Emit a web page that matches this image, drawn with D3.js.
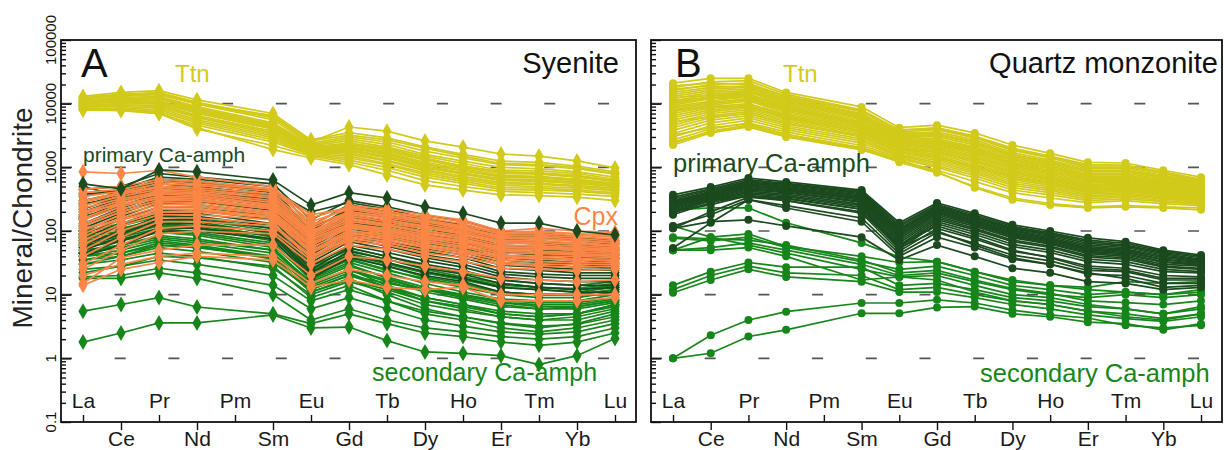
<!DOCTYPE html>
<html><head><meta charset="utf-8">
<script src="https://cdn.jsdelivr.net/npm/d3@7"></script>
<style>body{margin:0;background:#fff}svg{display:block;font-family:"Liberation Sans",Arial,sans-serif}</style>
</head><body><svg id="c" width="1224" height="450"></svg>
<script>
const elements = ["La","Ce","Pr","Nd","Pm","Sm","Eu","Gd","Tb","Dy","Ho","Er","Tm","Yb","Lu"];
const yTickLabels = ["0.1","1","10","100","1000","10000","100000"];
const gridValues = [1,10,100,1000,10000];

// Panel A – Syenite
const syeniteTtn = [
[11000,13000,14000,10000,null,6000,2500,4300,3700,2600,2080,1620,1500,1260,980],
[13000,15000,16000,11500,null,7000,2700,3500,2900,2100,1600,1250,1200,1050,850],
[12500,14000,15000,10500,null,6200,2400,3000,2500,1800,1400,1100,1050,950,780],
[12000,13500,14000,9800,null,5600,2300,2800,2300,1600,1250,1000,950,850,700],
[11500,12500,13000,9000,null,5000,2200,2600,2100,1500,1150,900,880,800,650],
[11000,12000,12500,8500,null,4800,2100,2400,2000,1400,1050,850,820,750,620],
[10500,11500,12000,8000,null,4500,2000,2200,1800,1300,1000,800,780,700,600],
[10000,11000,11000,7500,null,4200,1950,2100,1700,1200,950,750,720,650,560],
[10000,10500,10500,7000,null,4000,1900,2000,1600,1100,880,700,680,620,540],
[9500,10000,10000,6500,null,3700,1850,1900,1500,1050,820,660,640,590,520],
[9500,9500,9500,6200,null,3500,1800,1800,1400,980,780,620,600,560,500],
[9000,9500,9000,6000,null,3300,1750,1700,1300,920,720,580,560,520,470],
[9000,9000,8500,5600,null,3100,1700,1600,1250,880,680,550,540,500,450],
[8500,8500,8000,5300,null,2900,1650,1500,1150,820,640,520,500,470,430],
[8500,8200,7500,5000,null,2700,1600,1400,1100,760,600,480,470,440,400],
[8000,8000,7000,4600,null,2500,1550,1300,1000,700,560,450,440,420,380],
[8000,7800,7000,4000,null,2200,1500,1200,900,620,500,420,400,380,350],
[8500,8000,7200,4200,null,1900,1400,1100,760,530,440,370,360,340,300],
[12000,14000,14500,10000,null,6500,2600,3200,2700,2000,1500,1150,1100,1000,800],
[10500,12000,12000,8200,null,4600,2100,2300,1900,1350,1050,850,800,720,600],
[9000,10000,10500,7200,null,4000,1900,1850,1450,1000,800,640,620,560,500],
[11000,11500,11000,7800,null,4300,2000,2000,1650,1150,900,720,700,640,560]
];
const syeniteCpx = [
[850,800,900,700,null,500,120,250,220,180,150,100,110,100,95],
[400,450,600,550,null,450,160,240,200,170,140,95,100,90,85],
[350,420,550,520,null,420,140,220,180,150,120,90,90,85,80],
[300,400,500,480,null,380,120,200,170,140,110,85,85,80,75],
[280,380,480,450,null,350,110,190,160,130,105,80,80,75,70],
[250,350,450,420,null,330,100,180,150,120,100,75,75,70,65],
[230,320,420,400,null,300,95,170,140,115,95,70,70,65,60],
[200,300,400,380,null,280,90,160,130,110,90,68,66,62,58],
[180,280,380,360,null,260,85,150,125,100,85,65,62,58,55],
[160,260,350,340,null,250,80,140,120,95,80,60,58,55,52],
[150,240,330,320,null,230,75,130,110,90,75,56,55,52,50],
[130,220,300,300,null,220,70,125,105,85,70,52,52,50,48],
[120,200,280,280,null,200,65,120,100,80,66,50,48,46,45],
[100,180,260,260,null,190,60,110,95,75,62,48,46,44,42],
[90,160,240,240,null,180,55,100,90,70,58,45,44,42,40],
[80,150,220,220,null,170,50,95,85,66,55,42,40,40,38],
[70,130,200,200,null,160,48,90,80,62,50,40,38,37,36],
[60,120,180,180,null,150,45,85,75,58,48,38,36,35,34],
[50,100,160,160,null,130,40,80,70,55,45,35,33,32,32],
[40,80,140,140,null,120,38,75,65,50,42,32,30,30,30],
[30,60,110,120,null,100,35,70,60,45,38,30,28,27,28],
[25,50,90,100,null,90,30,60,52,40,33,26,25,24,25],
[15,38,50,60,null,60,20,40,35,28,23,18,17,16,17],
[20,30,40,45,null,40,15,25,20,16,14,10,10,10,10],
[14,25,32,40,null,35,13,17,13,12,13,8,8,8,9],
[200,260,320,300,null,240,90,200,170,140,115,80,75,70,65],
[450,500,650,600,null,460,180,230,190,160,130,90,95,90,85],
[110,150,200,210,null,170,60,115,100,80,70,55,55,50,48]
];
const syenitePrimary = [
[550,460,910,850,null,630,255,400,330,240,190,133,133,100,87],
[450,500,800,700,null,550,150,300,240,180,140,100,95,80,70],
[350,450,700,650,null,500,120,260,200,150,120,85,80,70,62],
[300,400,650,600,null,450,100,230,180,135,105,75,70,62,55],
[250,380,600,550,null,400,90,200,160,120,95,68,62,55,50],
[220,350,550,500,null,370,80,180,145,110,85,60,56,50,45],
[200,320,500,470,null,340,75,165,130,100,78,55,50,45,42],
[180,300,460,430,null,310,70,150,120,90,70,50,46,42,38],
[160,280,420,400,null,290,65,140,110,82,64,46,42,38,35],
[150,250,380,370,null,270,60,130,100,76,58,42,38,35,32],
[130,230,350,340,null,250,55,120,92,70,54,38,35,32,30],
[120,210,320,310,null,230,50,110,85,64,50,35,32,30,28],
[110,190,300,290,null,210,46,100,78,58,46,32,30,27,26],
[100,170,270,260,null,190,42,92,70,52,42,29,27,25,24],
[90,150,240,240,null,170,38,84,64,48,38,26,24,22,22],
[80,130,210,210,null,150,35,76,58,42,34,23,21,20,20],
[70,120,190,190,null,130,32,68,52,38,30,21,19,18,18],
[60,100,170,170,null,120,28,60,46,34,27,19,17,16,16],
[55,90,150,150,null,110,25,54,40,30,24,17,15,14,14],
[50,80,130,130,null,95,22,48,36,26,21,15,13,12,13],
[45,70,110,110,null,85,20,42,32,23,18,13,12,11,11],
[40,60,100,100,null,75,18,38,28,20,16,11,10,10,10],
[380,420,600,560,null,430,200,280,220,160,125,90,88,76,66],
[270,330,480,460,null,350,110,210,170,125,100,70,66,58,52],
[170,240,360,350,null,280,85,170,135,100,80,56,52,46,42],
[500,350,400,420,null,300,70,140,110,85,66,47,44,40,37]
];
const syeniteSecondary = [
[1.8,2.5,3.6,3.6,null,4.8,3.0,3.1,1.9,1.26,1.2,1.1,0.8,1.1,2.05],
[5.5,7,9,6.4,null,5,3.5,5,3.5,2.5,2.2,1.8,1.6,1.8,2.5],
[18,18,22,18,null,10,4,6,4,3,2.6,2.2,2,2.2,3],
[19,20,26,22,null,14,6,9,6,4,3.2,2.6,2.4,2.6,3.5],
[25,28,35,30,null,20,8,12,8,5.5,4.5,3.6,3.2,3.4,4.5],
[30,35,45,40,null,26,10,16,11,7,5.5,4.5,4,4,5.5],
[35,40,55,48,null,32,12,20,13,9,7,5.5,5,5,6.5],
[40,50,70,60,null,40,14,24,16,11,8.5,6.5,6,6,7.5],
[50,60,85,75,null,50,16,28,19,13,10,7.5,7,7,8.5],
[60,75,100,90,null,60,18,32,22,15,11,8.5,8,8,10],
[70,85,120,110,null,70,20,36,25,17,13,10,9,9,11],
[80,100,140,130,null,80,22,40,28,19,15,11,10,10,12],
[90,110,150,140,null,90,25,45,32,22,17,13,12,11,13],
[100,120,170,150,null,100,28,50,36,25,19,15,13,12,14],
[55,70,95,85,null,55,15,25,14,9,7,5,4.5,5,7],
[45,55,75,65,null,45,13,22,13,8,6,4.5,4,4.5,6],
[65,80,110,95,null,65,17,30,18,12,9,7,6,6.5,8],
[30,40,60,55,null,40,11,18,10,6,4.5,3.5,3,3.5,5],
[22,28,40,38,null,28,9,14,8,5,4,3,2.6,3,4],
[40,45,60,55,null,38,12,20,15,12,10,8,7.5,7.5,9],
[75,90,125,115,null,75,19,35,24,18,14,11,10,10,12],
[85,95,130,120,null,85,24,42,30,22,18,14,13,12.5,15],
[100,130,180,160,null,110,30,55,40,28,22,17,15,14,16],
[45,60,80,70,null,50,14,25,17,12,9.5,7.5,6.5,6.5,8],
[35,45,65,58,null,36,11,17,12,8,6.5,5,4.5,5,7]
];

// Panel B – Quartz monzonite
const qmTtn = [
[21000,25000,25000,15000,null,8900,4200,4600,3470,2240,1660,1200,1170,900,700],
[18000,22000,23000,14000,null,8000,3800,4200,3100,2000,1500,1100,1080,850,650],
[16000,20000,21000,13000,null,7500,3600,3900,2900,1850,1400,1000,1000,800,620],
[15000,18000,19000,12500,null,7000,3400,3600,2700,1700,1300,950,950,750,600],
[14000,17000,18000,12000,null,6800,3300,3400,2550,1600,1230,900,900,720,580],
[13000,16000,17000,11500,null,6500,3200,3200,2400,1500,1150,850,850,690,560],
[12000,15000,16000,11000,null,6200,3100,3000,2250,1420,1100,800,800,660,540],
[11000,14000,15500,10500,null,6000,3000,2800,2100,1350,1050,760,760,630,520],
[10500,13000,15000,10000,null,5800,2900,2650,2000,1280,1000,720,720,600,500],
[10000,12500,14000,9500,null,5500,2800,2500,1900,1200,950,690,690,580,480],
[9500,12000,13500,9000,null,5200,2700,2400,1800,1150,900,660,660,560,460],
[9000,11000,13000,8500,null,5000,2600,2300,1700,1100,860,630,630,540,440],
[8500,10500,12000,8000,null,4800,2500,2200,1600,1050,820,600,600,520,420],
[8000,10000,11500,7600,null,4600,2400,2100,1500,1000,780,570,580,500,400],
[7500,9500,11000,7200,null,4400,2300,2000,1420,950,740,540,560,480,390],
[7000,9000,10000,6800,null,4200,2200,1900,1350,900,700,520,540,460,380],
[6500,8500,9500,6500,null,4000,2100,1800,1280,850,670,500,520,440,370],
[6000,8000,9000,6200,null,3800,2000,1700,1200,800,640,480,500,420,360],
[5500,7500,8500,5800,null,3600,1950,1600,1130,760,610,460,480,400,340],
[5000,7000,8000,5500,null,3400,1900,1500,1060,720,580,440,460,390,330],
[4600,6500,7500,5200,null,3200,1800,1420,1000,680,550,420,440,370,320],
[4200,6000,7000,4900,null,3000,1700,1350,950,640,520,400,420,360,310],
[3800,5500,6500,4500,null,2800,1600,1280,900,600,490,380,400,340,300],
[3400,5000,6000,4200,null,2600,1550,1200,850,560,460,360,380,330,290],
[3000,4500,5500,3900,null,2400,1500,1130,800,520,430,340,360,320,280],
[2700,4000,5000,3600,null,2200,1420,1060,740,480,400,320,340,300,270],
[2400,3700,4600,3300,null,2050,1350,1000,680,440,370,300,320,290,260],
[2240,3470,4300,3000,null,1870,1250,900,600,400,330,280,300,270,250],
[2500,3600,4400,3100,null,1950,1200,820,500,330,270,240,250,240,230],
[3200,4200,4800,3300,null,2000,1300,850,480,310,255,230,240,230,215],
[19000,21000,20000,13000,null,7800,3900,4000,3000,1900,1450,1050,1050,800,640],
[17000,19000,18000,11000,null,6700,3500,3300,2450,1550,1200,880,870,700,560],
[12500,13500,14000,9000,null,5000,2600,2600,1950,1300,1000,720,710,600,490],
[7800,8800,9000,6000,null,3600,2000,1750,1250,850,650,480,480,420,360],
[11500,12000,12500,8200,null,4700,2400,2350,1750,1150,880,650,640,550,450],
[5200,6200,7000,4800,null,3100,1750,1450,1050,720,560,430,430,380,330]
];
const qmPrimary = [
[370,490,680,590,null,440,135,275,190,125,100,78,68,50,42],
[340,460,640,560,null,420,125,260,180,118,94,72,64,48,40],
[320,440,610,540,null,400,118,250,170,112,90,68,60,46,38],
[300,420,590,520,null,385,110,240,165,108,86,64,58,44,36],
[290,400,570,500,null,370,105,230,158,104,82,60,55,42,35],
[280,390,550,480,null,355,100,222,150,100,78,57,52,40,34],
[270,380,530,470,null,340,95,215,145,96,75,54,50,38,33],
[260,370,510,455,null,330,90,205,140,92,72,52,48,36,32],
[250,360,500,440,null,320,85,198,135,88,70,50,46,35,31],
[240,350,480,425,null,305,80,190,130,85,67,48,44,33,30],
[230,340,460,410,null,290,75,180,125,82,64,46,42,32,29],
[220,330,440,400,null,280,70,170,118,78,62,44,40,30,28],
[210,320,420,380,null,265,65,160,110,72,58,41,38,28,26],
[200,310,400,360,null,250,60,150,104,68,55,39,36,27,25],
[190,300,380,345,null,235,56,140,96,62,50,36,33,25,23],
[180,280,360,330,null,220,52,130,88,57,46,33,30,23,22],
[110,200,340,300,null,190,48,110,75,48,39,28,26,20,19],
[120,180,310,250,null,160,44,95,64,42,34,24,23,17,17],
[54,135,310,230,null,140,40,80,55,36,30,21,20,15,15],
[110,140,150,120,null,80,35,60,40,26,22,16,15,12,13],
[200,260,360,300,null,200,55,100,60,38,30,22,18,13,14],
[260,300,350,320,null,220,60,120,80,50,38,26,24,18,18]
];
const qmSecondary = [
[1,2.3,4,5.4,null,7.4,7.4,8.3,7.4,5.7,4.8,4.3,3.3,3,3.3],
[1,1.2,2.2,2.8,null,5.1,5.1,6.3,6.5,5,4.5,3.7,3.5,2.8,3.5],
[14,23,32,27,null,27,14,15,12,9,8,6.5,6,5,6],
[12,20,28,22,null,20,12,13,10,8,7,5.5,5,4.2,5],
[10.7,17,25,19,null,16,11,11,9,7,6,4.8,4.2,3.8,4.5],
[50,80,90,57,null,40,32,33,23,17,14,13,16,15,16],
[50,55,65,50,null,30,20,22,16,12,10,9,10,9,10],
[77,70,80,55,null,33,25,28,20,14,12,10,11,10,12],
[120,80,60,45,null,25,19,20,14,10,9,7,6,5,6.5],
[50,50,55,40,null,17,19,17,11,8,7,5.5,4.5,4,5],
[215,230,230,135,null,65,39,33,23,16,14,12,11,10,11],
[80,75,72,60,null,35,22,24,17,12.5,10.5,8,7.5,7,8]
];

const COL = {ttn:"#d2ca1a", cpx:"#fb8646", prim:"#1b4a1e", sec:"#17861a"};

const svg = d3.select("#c");
const H0 = 40, H1 = 422;
const y = d3.scaleLog().domain([0.1,1e5]).range([H1,H0]);

function panel(opts){
  const {x0,x1} = opts;
  const g = svg.append("g");
  const x = d3.scalePoint().domain(elements).range([x0+22, x1-21]);

  // dashed grid
  g.selectAll("line.grid").data(gridValues).join("line")
    .attr("x1",x0).attr("x2",x1).attr("y1",d=>y(d)).attr("y2",d=>y(d))
    .attr("stroke","#555").attr("stroke-width",1.6).attr("stroke-dasharray","11,42.7");

  const line = d3.line().x(d=>x(elements[d.i])).y(d=>y(d.v));
  function drawSeries(arr,color,marker){
    arr.forEach(row=>{
      const pts = row.map((v,i)=>({i,v})).filter(d=>d.v!=null);
      const s = g.append("g");
      s.append("path").attr("d",line(pts)).attr("fill","none")
        .attr("stroke",color).attr("stroke-width",1.7);
      if(marker==="diamond"){
        s.selectAll("path.m").data(pts).join("path")
          .attr("d","M0,-8L4.6,0L0,8L-4.6,0Z")
          .attr("transform",d=>`translate(${x(elements[d.i])},${y(d.v)})`)
          .attr("fill",color);
      } else {
        s.selectAll("circle").data(pts).join("circle")
          .attr("cx",d=>x(elements[d.i])).attr("cy",d=>y(d.v)).attr("r",4)
          .attr("fill",color);
      }
    });
  }
  opts.layers.forEach(l=>drawSeries(l.data,l.color,opts.marker));

  // y ticks (inward)
  const allTicks = y.ticks();
  const major = allTicks.filter(t=>Math.abs(Math.log10(t)-Math.round(Math.log10(t)))<1e-9);
  const minor = allTicks.filter(t=>!major.includes(t));
  const axMinor = g.append("g").attr("transform",`translate(${x0},0)`)
    .call(d3.axisRight(y).tickValues(minor).tickSize(5).tickFormat(""));
  const axMajor = g.append("g").attr("transform",`translate(${x0},0)`)
    .call(d3.axisRight(y).tickValues(major).tickSize(10).tickFormat(""));
  [axMinor,axMajor].forEach(a=>{a.select(".domain").remove();a.selectAll("line").attr("stroke","#111").attr("stroke-width",1.4);});

  // x axis
  const upper = elements.filter((e,i)=>i%2===0);
  const lower = elements.filter((e,i)=>i%2===1);
  const axU = g.append("g").attr("transform",`translate(0,${H1})`)
    .call(d3.axisTop(x).tickValues(upper).tickSize(7).tickPadding(7));
  const axL = g.append("g").attr("transform",`translate(0,${H1})`)
    .call(d3.axisBottom(x).tickValues(lower).tickSize(8).tickPadding(1));
  [axU,axL].forEach(a=>{
    a.select(".domain").remove();
    a.selectAll("line").attr("stroke","#111").attr("stroke-width",1.4);
    a.selectAll("text").attr("font-size",21).attr("fill","#1a1a1a")
      .attr("font-family","Liberation Sans, Arial, sans-serif");
  });

  // frame
  g.append("rect").attr("x",x0).attr("y",H0).attr("width",x1-x0).attr("height",H1-H0)
    .attr("fill","none").attr("stroke","#111").attr("stroke-width",1.8);

  // texts
  opts.texts.forEach(t=>{
    g.append("text").attr("x",t.x).attr("y",t.y).attr("font-size",t.size)
      .attr("fill",t.color||"#111").attr("text-anchor",t.anchor||"start").text(t.text);
  });
  return {x};
}

panel({x0:61,x1:636,marker:"diamond",
  layers:[
    {data:syeniteTtn,color:COL.ttn},
    {data:syeniteSecondary,color:COL.sec},
    {data:syenitePrimary.slice(1),color:COL.prim},
    {data:syeniteCpx,color:COL.cpx},
    {data:syenitePrimary.slice(0,1),color:COL.prim}
  ],
  texts:[
    {text:"A",x:81,y:77,size:40},
    {text:"Syenite",x:619,y:73,size:29,anchor:"end"},
    {text:"Ttn",x:175,y:82,size:24,color:COL.ttn},
    {text:"primary Ca-amph",x:83,y:162,size:21,color:COL.prim},
    {text:"Cpx",x:618,y:225,size:25,color:COL.cpx,anchor:"end"},
    {text:"secondary Ca-amph",x:372,y:381,size:25,color:COL.sec}
  ]});

panel({x0:651,x1:1222,marker:"circle",
  layers:[
    {data:qmTtn,color:COL.ttn},
    {data:qmSecondary,color:COL.sec},
    {data:qmPrimary,color:COL.prim}
  ],
  texts:[
    {text:"B",x:675,y:77,size:40},
    {text:"Quartz monzonite",x:1218,y:73,size:29,anchor:"end"},
    {text:"Ttn",x:783,y:82,size:24,color:COL.ttn},
    {text:"primary Ca-amph",x:673,y:172,size:25.5,color:COL.prim},
    {text:"secondary Ca-amph",x:980,y:382,size:25.5,color:COL.sec}
  ]});

// y tick labels (panel A only)
svg.append("g").selectAll("text").data(yTickLabels).join("text")
  .attr("transform",d=>`translate(56,${y(+d)}) rotate(-90)`)
  .attr("text-anchor","middle").attr("font-size",15).attr("fill","#111").text(d=>d);

// y axis title
svg.append("text").attr("transform",`translate(32,218) rotate(-90)`)
  .attr("text-anchor","middle").attr("font-size",28).attr("fill","#222").text("Mineral/Chondrite");
</script></body></html>
